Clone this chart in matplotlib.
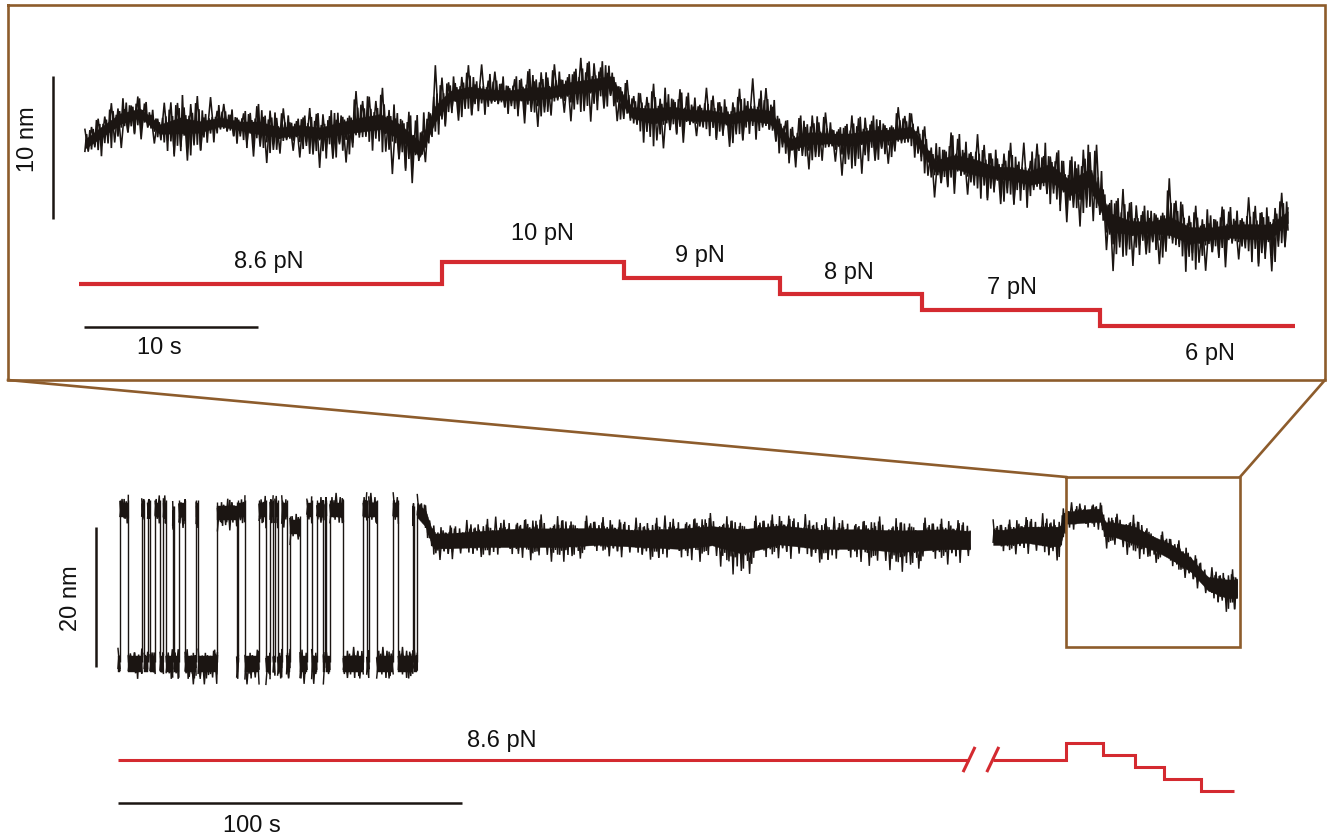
import numpy as np
import matplotlib
matplotlib.use("Agg")
import matplotlib.pyplot as plt

plt.rcParams['font.family'] = ['Liberation Sans', 'DejaVu Sans']

# ---------------- data ----------------
# Top panel: zoomed trace, time (s), extension (nm): upper / lower spike envelope and band centre
top_t = [0.34, 1.21, 2.36, 3.51, 4.66, 5.80, 6.95, 8.10, 9.25, 10.40,
         11.55, 12.70, 13.85, 14.99, 16.14, 17.29, 18.45, 19.60, 20.46, 21.32,
         22.47, 23.62, 24.77, 25.92, 27.07, 28.22, 29.37, 30.52, 31.78, 32.93,
         34.08, 35.23, 36.26, 37.41, 38.56, 39.71, 40.86, 42.01, 43.16, 44.31,
         45.46, 46.61, 47.87, 49.20, 50.34, 51.49, 52.64, 53.62, 54.66, 55.80,
         56.95, 58.10, 59.25, 60.40, 61.55, 62.70, 63.85, 65.00, 66.15, 67.30,
         68.45, 69.48]
top_hi = [0.84, 2.24, 3.29, 3.29, 2.24, 3.99, 3.15, 2.94, 2.45, 3.01,
          2.24, 2.59, 2.31, 3.01, 3.85, 4.34, 2.31, 2.45, 5.24, 4.76,
          5.45, 5.24, 5.03, 5.45, 5.24, 5.94, 6.08, 6.29, 3.85, 4.34,
          4.06, 3.71, 3.64, 3.15, 4.41, 4.06, 1.96, 2.45, 1.89, 1.89,
          2.31, 2.45, 2.59, 0.14, 1.19, 0.49, -0.14, 0.00, -0.21, 1.26,
          -0.70, 0.70, -1.89, -3.71, -3.99, -2.24, -4.20, -4.41, -4.20, -3.99,
          -4.20, -3.15]
top_lo = [-2.66, -1.96, -0.84, -0.14, -1.40, -2.24, -1.26, -0.35, -0.91, -1.96,
          -1.54, -1.26, -1.96, -1.75, -1.61, -1.54, -3.50, -3.36, -1.05, 0.84,
          1.26, 1.26, 1.26, 0.49, 1.05, 1.26, 1.26, 1.96, -0.35, -1.54,
          -0.35, -0.56, -0.56, -0.84, -0.35, -1.05, -2.31, -2.24, -1.96, -2.94,
          -1.96, -1.75, -1.54, -4.34, -4.06, -5.59, -4.76, -5.10, -5.59, -5.38,
          -6.50, -6.15, -9.30, -8.88, -8.39, -9.30, -10.70, -9.09, -9.30, -9.79,
          -9.93, -7.69]
top_mid = [-0.14, 0.56, 1.54, 1.96, 0.84, 1.05, 0.91, 1.26, 1.05, 0.91,
           0.56, 0.70, 0.56, 0.84, 1.05, 1.26, 0.84, -0.70, 1.75, 3.15,
           3.36, 3.15, 3.15, 3.29, 3.36, 3.64, 3.85, 4.06, 1.96, 1.75,
           1.96, 1.75, 1.75, 1.54, 1.75, 1.61, -0.35, 0.14, 0.14, 0.14,
           0.35, 0.35, 0.56, -1.75, -1.54, -1.75, -2.24, -2.31, -2.59, -2.31,
           -3.29, -2.59, -5.80, -6.08, -6.08, -6.08, -6.50, -6.50, -6.29, -6.29,
           -6.29, -5.38]

# Top panel force protocol
top_force_edges = [0.0, 20.86, 31.32, 40.29, 48.45, 58.68, 69.89]
top_force = [8.6, 10, 9, 8, 7, 6]
top_force_labels = ["8.6 pN", "10 pN", "9 pN", "8 pN", "7 pN", "6 pN"]

# Bottom panel: hopping part (low state around 0 nm, high dwells at the listed levels)
hop_low = (2.3, -3.4, 0.1)          # (upper, lower, centre) nm of the low state
hop_spread = (2.4, 2.9)             # spread above / below a high dwell level
hop_intervals = [(0.58, 3.0), (6.9, 7.6), (8.6, 9.3), (10.8, 12.2), (13.2, 14.0),
                 (15.9, 16.3), (17.7, 19.5), (22.7, 23.3), (28.9, 34.5), (35.0, 36.9),
                 (41.0, 43.0), (44.2, 45.1), (45.6, 46.4), (47.6, 49.0), (50.0, 52.9),
                 (54.9, 56.3), (57.8, 59.7), (60.2, 60.6), (61.6, 65.5), (71.3, 72.3),
                 (72.9, 75.2), (80.0, 81.5), (85.7, 86.1)]
hop_levels = [21.9, 21.9, 21.9, 21.9, 21.9, 21.0, 21.9, 21.9, 21.5, 21.9,
              21.9, 21.9, 21.9, 21.9, 19.5, 21.9, 21.9, 21.9, 21.9, 21.9,
              21.9, 21.9, 21.0]

# Bottom panel: steady part before the break
rest_t = [87.0, 89.5, 91.6, 95.3, 105.2, 116.9, 128.5, 140.1, 151.7, 163.4,
          172.7, 181.4, 192.4, 204.1, 215.7, 227.3, 240.4, 247.7]
rest_hi = [24.3, 23.6, 20.0, 20.0, 20.7, 21.4, 21.4, 21.4, 20.7, 21.4,
           21.6, 21.1, 21.9, 20.9, 21.1, 21.1, 21.1, 20.9]
rest_lo = [19.0, 17.7, 14.4, 14.4, 14.7, 14.4, 14.4, 15.1, 14.4, 13.7,
           14.4, 11.9, 14.7, 13.7, 13.7, 13.0, 13.6, 14.0]
rest_mid = [21.9, 20.5, 17.6, 17.6, 17.7, 17.9, 17.9, 18.0, 17.9, 17.9,
            18.3, 17.9, 18.3, 17.9, 17.9, 17.6, 17.9, 17.6]

# Bottom panel: part after the break
late_t = [254.4, 257.3, 263.7, 270.9, 273.8, 275.6, 277.6, 283.1, 285.6, 287.0,
          289.2, 295.1, 300.9, 306.7, 311.9, 316.9, 322.4, 325.3]
late_hi = [20.7, 20.7, 21.4, 21.4, 21.4, 23.0, 23.0, 23.6, 23.6, 21.4,
           21.4, 21.6, 19.4, 18.6, 16.6, 13.7, 13.6, 13.6]
late_lo = [15.0, 15.0, 15.4, 14.0, 14.0, 18.3, 18.3, 18.6, 18.6, 16.1,
           16.1, 15.1, 14.4, 12.9, 11.4, 8.6, 6.6, 6.6]
late_mid = [18.0, 18.0, 18.3, 18.3, 18.3, 20.9, 20.9, 21.1, 21.1, 19.3,
            19.3, 18.3, 17.3, 15.7, 14.0, 11.4, 10.9, 10.9]

# Bottom panel force protocol
bot_base_force = 8.6
bot_break_t = [247.4, 254.3]
bot_step_edges = [254.3, 275.6, 286.3, 295.6, 304.1, 314.7, 324.4]
bot_step_force = [8.6, 10, 9, 8, 7, 6]

# ---------------- style ----------------
INK = '#1b1512'
RED = '#d42a30'
BROWN = '#8d5c2c'
FS = 17
W, H = 1333, 839
# fixed amplitude factors giving the ragged look of the noise band
AMP = [0.35, 0.70, 0.30, 0.90, 0.50, 0.32, 0.62, 1.00, 0.45, 0.28, 0.80, 0.55, 0.38,
       0.95, 0.48, 0.66, 0.33, 0.58, 0.85, 0.42, 0.30, 0.75, 0.60, 0.98, 0.40, 0.52,
       0.70, 0.34, 0.88, 0.50, 0.31, 0.64, 0.44, 0.82, 0.37, 0.57, 0.92, 0.47, 0.33,
       0.72, 0.53]

fig = plt.figure(figsize=(W / 100, H / 100), dpi=100)


def pane(x0_px, px_per_t, y0_px, v0, px_per_v):
    ax = fig.add_axes([0, 0, 1, 1])
    ax.set_xlim(-x0_px / px_per_t, (W - x0_px) / px_per_t)
    ax.set_ylim(v0 - (H - y0_px) / px_per_v, v0 + y0_px / px_per_v)
    ax.set_axis_off()
    ax.patch.set_alpha(0)
    return ax


def px2data(ax, x, y):
    return ax.transData.inverted().transform((x, H - y))


def zigzag(ax, t, hi, lo, mid, spacing, amp_scale, lw, seed):
    ts = np.arange(t[0], t[-1], spacing)
    ts = np.append(ts, t[-1])
    m = np.interp(ts, t, mid)
    u = np.interp(ts, t, hi)
    d = np.interp(ts, t, lo)
    n = len(AMP)
    ys = np.empty_like(ts)
    for j in range(len(ts)):
        k = j + seed
        if k % 2 == 0:
            ys[j] = m[j] + amp_scale * AMP[(k * 7 + 3) % n] * (u[j] - m[j])
        else:
            ys[j] = m[j] - amp_scale * AMP[(k * 11 + 5) % n] * (m[j] - d[j])
    ax.plot(ts, ys, color=INK, lw=lw, solid_joinstyle='miter')


def draw_trace(ax, t, hi, lo, mid, spacing, core_frac=0.15, lw=1.1, seed=0, inner=0.75):
    t = np.asarray(t, float)
    hi = np.asarray(hi, float)
    lo = np.asarray(lo, float)
    mid = np.asarray(mid, float)
    if core_frac > 0:
        ax.fill_between(t, mid - core_frac * (mid - lo), mid + core_frac * (hi - mid),
                        color=INK, lw=0.3)
    # dense inner layer + sparser full-amplitude layer
    zigzag(ax, t, hi, lo, mid, spacing * 0.5, inner, lw, seed + 1)
    zigzag(ax, t, hi, lo, mid, spacing, 1.0, lw * 0.95, seed)


# axes: trace & force for top and bottom panel (pixel anchors -> data scales)
ax_top = pane(79, 17.4, 140, 0.0, 14.3)
ax_topF = pane(79, 17.4, 284, 8.6, 16.0)
ax_bot = pane(118, 3.44, 663, 0.0, 7.0)
ax_botF = pane(118, 3.44, 759.5, 8.6, 12.0)
ov = fig.add_axes([0, 0, 1, 1])
ov.set_xlim(0, W)
ov.set_ylim(H, 0)
ov.set_axis_off()
ov.patch.set_alpha(0)

# ---------------- top panel ----------------
draw_trace(ax_top, top_t, top_hi, top_lo, top_mid, spacing=0.19, core_frac=0.18, lw=1.2,
           inner=0.78)

ax_topF.plot(top_force_edges, top_force + [top_force[-1]], drawstyle='steps-post',
             color=RED, lw=3.0, solid_joinstyle='miter', solid_capstyle='butt')
label_off = [(8, 22), (9, 28), (-2, 22), (-2, 21), (1, 22), (12, -28)]
for i, lab in enumerate(top_force_labels):
    tm = 0.5 * (top_force_edges[i] + top_force_edges[i + 1])
    ax_topF.annotate(lab, (tm, top_force[i]), xytext=label_off[i], textcoords='offset pixels',
                     ha='center', va='center', fontsize=FS, color='#111111')

# scale bars (top)
t0, yb = px2data(ax_top, 84, 327)
ax_top.plot([t0, t0 + 10], [yb, yb], color=INK, lw=1.8, solid_capstyle='butt')
tb, y0 = px2data(ax_top, 53, 219)
ax_top.plot([tb, tb], [y0, y0 + 10], color=INK, lw=1.8, solid_capstyle='butt')
ov.text(159, 348, "10 s", ha='center', va='center', fontsize=FS, color='#111111')
ov.text(28, 139, "10 nm", ha='center', va='center', rotation=90, fontsize=FS, color='#111111')

# ---------------- bottom panel ----------------
lo_hi, lo_lo, lo_mid = hop_low
prev = 0.0
for i, ((ta, tb_), lev) in enumerate(zip(hop_intervals, hop_levels)):
    draw_trace(ax_bot, [prev, ta], [lo_hi, lo_hi], [lo_lo, lo_lo], [lo_mid, lo_mid],
               spacing=0.6, core_frac=0.38, lw=1.1, seed=i)
    sp = min(0.6, (tb_ - ta) / 2)
    draw_trace(ax_bot, [ta, tb_], [lev + hop_spread[0]] * 2, [lev - hop_spread[1]] * 2,
               [lev, lev], spacing=sp, core_frac=0.38, lw=1.1, seed=i + 3)
    ax_bot.vlines([ta, tb_], lo_mid, lev + 0.6 * hop_spread[0], color=INK, lw=1.0)
    prev = tb_
draw_trace(ax_bot, [prev, rest_t[0]], [lo_hi, lo_hi], [lo_lo, lo_lo], [lo_mid, lo_mid],
           spacing=0.6, core_frac=0.38, lw=1.1)
ax_bot.vlines([rest_t[0]], lo_mid, rest_mid[0], color=INK, lw=1.0)
draw_trace(ax_bot, rest_t, rest_hi, rest_lo, rest_mid, spacing=0.6, core_frac=0.38, lw=1.1)
draw_trace(ax_bot, late_t, late_hi, late_lo, late_mid, spacing=0.6, core_frac=0.38, lw=1.1)

# force protocol (bottom)
ax_botF.plot([0, bot_break_t[0]], [bot_base_force] * 2, color=RED, lw=2.2, solid_capstyle='butt')
ax_botF.plot(bot_step_edges, bot_step_force + [bot_step_force[-1]],
             drawstyle='steps-post', color=RED, lw=2.2, solid_joinstyle='miter',
             solid_capstyle='butt')
for tbk in bot_break_t:
    ax_botF.plot([tbk - 1.75, tbk + 1.75], [bot_base_force - 1.05, bot_base_force + 1.05],
                 color=RED, lw=2.2, solid_capstyle='butt')
ax_botF.annotate("8.6 pN", (0.5 * bot_break_t[0], bot_base_force), xytext=(-42, 18),
                 textcoords='offset pixels', ha='center', va='center', fontsize=FS, color='#111111')

# scale bars (bottom)
t0, yb = px2data(ax_bot, 118, 803)
ax_bot.plot([t0, t0 + 100], [yb, yb], color=INK, lw=1.8, solid_capstyle='butt')
tb, y0 = px2data(ax_bot, 96, 667)
ax_bot.plot([tb, tb], [y0, y0 + 20], color=INK, lw=1.8, solid_capstyle='butt')
ov.text(252, 826, "100 s", ha='center', va='center', fontsize=FS, color='#111111')
ov.text(71, 598, "20 nm", ha='center', va='center', rotation=90, fontsize=FS, color='#111111')

# ---------------- zoom box and connectors ----------------
ov.plot([8, 1325, 1325, 8, 8], [5, 5, 380, 380, 5], color=BROWN, lw=1.9, solid_joinstyle='miter')
ov.plot([1066, 1240, 1240, 1066, 1066], [477, 477, 647, 647, 477], color=BROWN, lw=1.9,
        solid_joinstyle='miter')
ov.plot([8, 1066], [380, 477], color=BROWN, lw=1.9)
ov.plot([1325, 1240], [380, 477], color=BROWN, lw=1.9)

fig.savefig("out.png", dpi=100, facecolor='white')
